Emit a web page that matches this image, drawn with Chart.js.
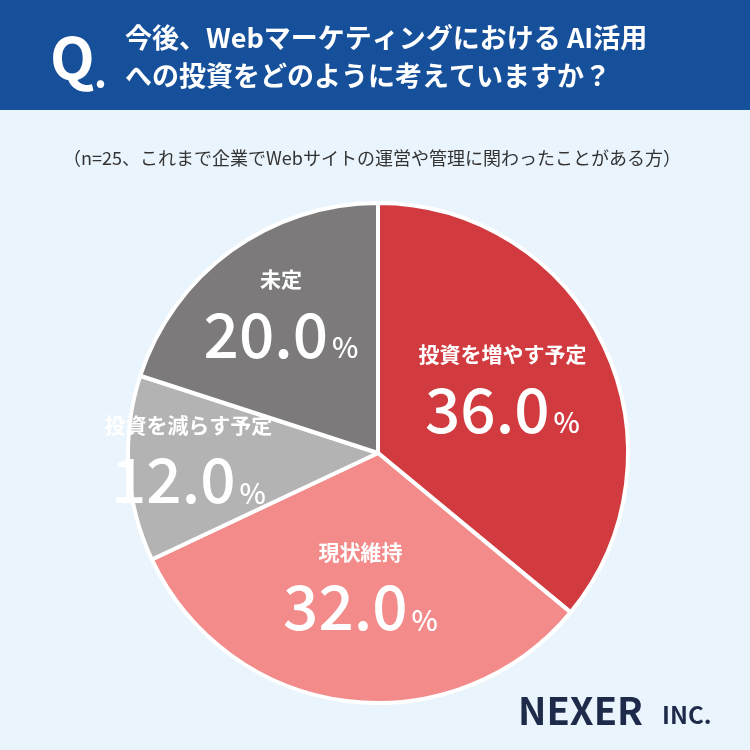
<!DOCTYPE html>
<html><head><meta charset="utf-8">
<script src="https://cdn.jsdelivr.net/npm/chart.js@4"></script>
<style>
html,body{margin:0;padding:0;background:#eaf4fc;}
#wrap{position:relative;width:750px;height:750px;}
canvas{position:absolute;left:0;top:0;}
</style></head><body>
<div id="wrap"><canvas id="c" width="750" height="750"></canvas></div>
<script>
const categories = ['投資を増やす予定', '現状維持', '投資を減らす予定', '未定'];
const shares = [36.0, 32.0, 12.0, 20.0];
const sliceColors = ['#d13b3f', '#f28b8a', '#b3b3b3', '#7c7a7a'];
const labelRadius = [0.55, 0.56, 0.76, 0.66];
const FONT = "'Noto Sans CJK JP', 'Noto Sans', sans-serif";

// Header, subtitle, slice labels and logo
const decor = {
  id: 'decor',
  beforeDraw(chart) {
    const ctx = chart.ctx;
    ctx.save();
    ctx.fillStyle = '#eaf4fc';
    ctx.fillRect(0, 0, 750, 750);
    ctx.fillStyle = '#16509a';
    ctx.fillRect(0, 0, 750, 110);
    ctx.fillStyle = '#fff';
    ctx.textBaseline = 'middle';
    ctx.font = "bold 58px " + FONT;
    ctx.fillText('Q', 50, 58);
    ctx.font = "bold 40px " + FONT;
    ctx.fillText('.', 94, 72);
    ctx.font = "bold 27px " + FONT;
    ctx.fillText('今後、Webマーケティングにおける AI活用', 125, 38);
    ctx.fillText('への投資をどのように考えていますか？', 125, 76);
    ctx.fillStyle = '#333';
    ctx.font = "18px " + FONT;
    ctx.textAlign = 'center';
    ctx.fillText('（n=25、これまで企業でWebサイトの運営や管理に関わったことがある方）', 372, 158);
    ctx.fillStyle = '#1d2a4a';
    ctx.textAlign = 'left';
    ctx.font = "600 38px " + FONT;
    ctx.fillText('NEXER', 518, 711);
    ctx.font = "600 24px " + FONT;
    ctx.fillText('INC.', 662, 715);
    ctx.restore();
  },
  afterDatasetsDraw(chart) {
    const ctx = chart.ctx;
    const arcs = chart.getDatasetMeta(0).data;
    ctx.save();
    ctx.fillStyle = '#fff';
    ctx.textBaseline = 'middle';
    arcs.forEach((arc, i) => {
      const mid = (arc.startAngle + arc.endAngle) / 2;
      const r = arc.outerRadius * labelRadius[i];
      const x = arc.x + Math.cos(mid) * r;
      const y = arc.y + Math.sin(mid) * r;
      ctx.textAlign = 'center';
      ctx.font = "bold 21px " + FONT;
      ctx.fillText(categories[i], x, y - 40);
      const num = shares[i].toFixed(1);
      ctx.font = "500 62px " + FONT;
      const w1 = ctx.measureText(num).width;
      ctx.font = "500 28px " + FONT;
      const w2 = ctx.measureText('%').width;
      const sx = x - (w1 + w2 + 4) / 2;
      ctx.textAlign = 'left';
      ctx.font = "500 62px " + FONT;
      ctx.fillText(num, sx, y + 15);
      ctx.font = "500 28px " + FONT;
      ctx.fillText('%', sx + w1 + 4, y + 28);
    });
    ctx.restore();
  }
};

new Chart(document.getElementById('c'), {
  type: 'pie',
  data: {
    labels: categories,
    datasets: [{
      data: shares,
      backgroundColor: sliceColors,
      borderColor: '#ffffff',
      borderWidth: 4
    }]
  },
  options: {
    responsive: false,
    animation: false,
    layout: { padding: { left: 126, right: 120, top: 201, bottom: 45 } },
    plugins: { legend: { display: false }, tooltip: { enabled: false } }
  },
  plugins: [decor]
});
</script>
</body></html>
